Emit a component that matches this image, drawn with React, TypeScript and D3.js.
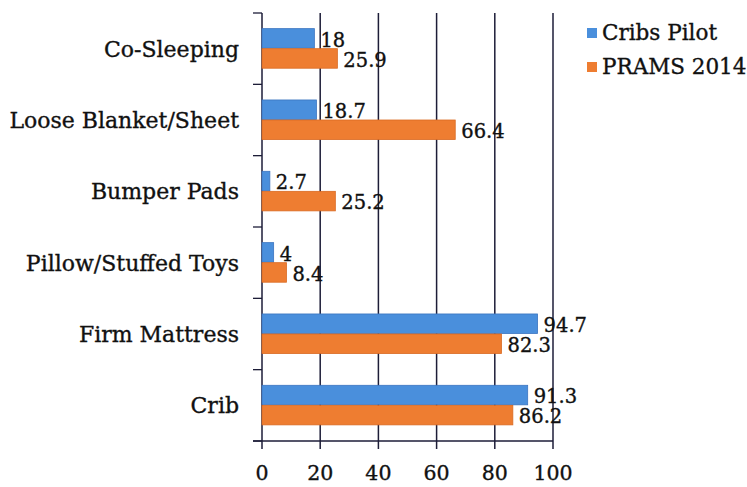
import React from "react";
import * as d3 from "d3";

const categories = [
  "Co-Sleeping",
  "Loose Blanket/Sheet",
  "Bumper Pads",
  "Pillow/Stuffed Toys",
  "Firm Mattress",
  "Crib",
];
const seriesNames = ["Cribs Pilot", "PRAMS 2014"];
const cribsPilot = [18, 18.7, 2.7, 4, 94.7, 91.3];
const prams2014 = [25.9, 66.4, 25.2, 8.4, 82.3, 86.2];
const xTicks = [0, 20, 40, 60, 80, 100];

const colors = ["#4a8fdc", "#ee7d31"];
const strokes = ["#3b74c0", "#d96a22"];

const W = 747;
const H = 487;
const FONT = "'DejaVu Serif', 'Liberation Serif', serif";
const INK = "#111";

export default function App() {
  const x = d3.scaleLinear().domain([0, 100]).range([262, 553]);
  const y = d3.scaleBand().domain(categories).range([13, 441]);
  const yInner = d3
    .scaleBand()
    .domain(seriesNames)
    .range([0, y.bandwidth()])
    .paddingOuter(0.78);
  const series = [cribsPilot, prams2014];
  const boundaries = categories.map((c) => y(c)!).concat([y.range()[1]]);

  const textProps = {
    fontFamily: FONT,
    fill: INK,
    stroke: INK,
    strokeWidth: 0.35,
  };

  return (
    <svg
      width={W}
      height={H}
      style={{ position: "absolute", left: 0, top: 0, background: "#fff" }}
    >
      {/* vertical gridlines */}
      {xTicks.map((t) => (
        <line
          key={"g" + t}
          x1={x(t)}
          x2={x(t)}
          y1={13}
          y2={449}
          stroke="#1d1d38"
          strokeWidth={1.5}
        />
      ))}
      {/* category boundary ticks on the y axis */}
      {boundaries.map((b, i) => (
        <line
          key={"yt" + i}
          x1={253}
          x2={x(0)}
          y1={b}
          y2={b}
          stroke="#1d1d38"
          strokeWidth={1.3}
        />
      ))}
      {/* bottom axis */}
      <line x1={253} x2={x(100)} y1={441} y2={441} stroke="#1d1d38" strokeWidth={1.3} />

      {/* bars */}
      {categories.map((c, ci) =>
        seriesNames.map((s, si) => {
          const v = series[si][ci];
          const by = y(c)! + yInner(s)!;
          const bh = yInner.bandwidth();
          return (
            <g key={c + s}>
              <rect
                x={x(0)}
                y={by}
                width={x(v) - x(0)}
                height={bh - 0.5}
                fill={colors[si]}
                stroke={strokes[si]}
                strokeWidth={0.8}
              />
              <text x={x(v) + 6} y={by + bh - 2} fontSize={19.5} {...textProps}>
                {v}
              </text>
            </g>
          );
        })
      )}

      {/* category labels */}
      {categories.map((c) => (
        <text
          key={"l" + c}
          x={239}
          y={y(c)! + y.bandwidth() / 2 + 8}
          textAnchor="end"
          fontSize={22}
          {...textProps}
        >
          {c}
        </text>
      ))}

      {/* x tick labels */}
      {xTicks.map((t) => (
        <text
          key={"xl" + t}
          x={x(t)}
          y={480}
          textAnchor="middle"
          fontSize={20.5}
          {...textProps}
        >
          {t}
        </text>
      ))}

      {/* legend */}
      {seriesNames.map((s, i) => (
        <g key={"lg" + s} transform={`translate(587, ${28 + i * 34})`}>
          <rect width={10} height={10} fill={colors[i]} />
          <text x={15} y={12} fontSize={21.5} {...textProps}>
            {s}
          </text>
        </g>
      ))}
    </svg>
  );
}
